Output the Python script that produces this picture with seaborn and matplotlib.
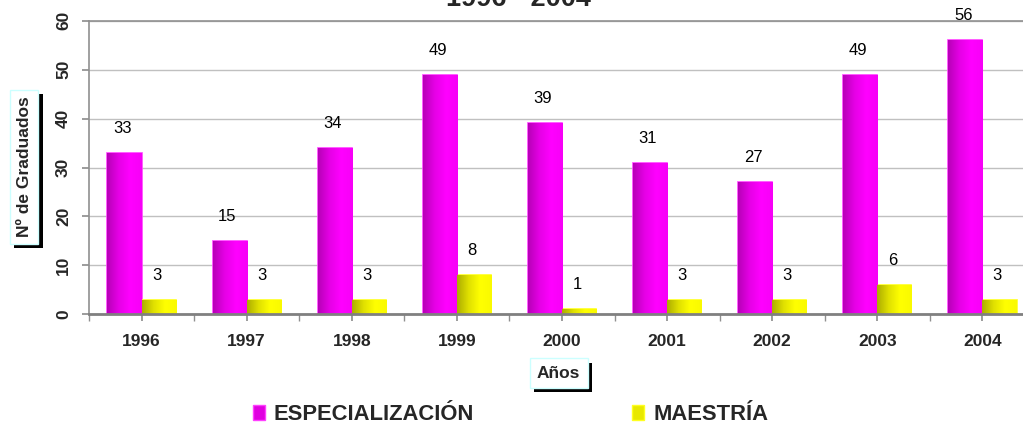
import numpy as np
import pandas as pd
import matplotlib
matplotlib.use("Agg")
import matplotlib.pyplot as plt
import matplotlib.patheffects as pe
from matplotlib.colors import LinearSegmentedColormap
from matplotlib.patches import Patch
import seaborn as sns

years = ["1996", "1997", "1998", "1999", "2000", "2001", "2002", "2003", "2004"]
especializacion = [33, 15, 34, 49, 39, 31, 27, 49, 56]
maestria = [3, 3, 3, 8, 1, 3, 3, 6, 3]
series = ["ESPECIALIZACIÓN", "MAESTRÍA"]
title = "1996 - 2004"

df = pd.DataFrame({
    "Año": years * 2,
    "Serie": [series[0]] * len(years) + [series[1]] * len(years),
    "Valor": especializacion + maestria,
})

sns.set_theme(style="white")
plt.rcParams["font.family"] = ["Liberation Sans", "DejaVu Sans"]

fig = plt.figure(figsize=(10.23, 4.28), dpi=100)
ax = fig.add_axes([89 / 1023, 113.7 / 428, (1035 - 89) / 1023, 293.6 / 428])

palette = {series[0]: "#FF00FF", series[1]: "#FFFF00"}
sns.barplot(data=df, x="Año", y="Valor", hue="Serie", palette=palette,
            width=0.65, gap=0, dodge=True, ax=ax, legend=False,
            saturation=1, edgecolor="none")

cmaps = {
    0: LinearSegmentedColormap.from_list("m", [(0.72, 0, 0.72), (0.9, 0, 0.9), (1, 0, 1), (0.97, 0, 0.97)]),
    1: LinearSegmentedColormap.from_list("y", [(0.68, 0.68, 0), (0.88, 0.88, 0), (1, 1, 0), (0.98, 0.98, 0)]),
}
edgecols = {0: "#FF40FF", 1: "#FFFF20"}
grad = np.linspace(0, 1, 64).reshape(1, -1)
for si, cont in enumerate(ax.containers):
    vals = especializacion if si == 0 else maestria
    for bar, v in zip(cont, vals):
        x, w, h = bar.get_x(), bar.get_width(), bar.get_height()
        bar.set_edgecolor(edgecols[si])
        bar.set_linewidth(1.2)
        im = ax.imshow(grad, extent=(x, x + w, 0, h), cmap=cmaps[si],
                       aspect="auto", origin="lower", zorder=bar.get_zorder() + 0.1)
        im.set_clip_path(bar)
        ax.text(x + w / 2 - 0.02, v + 5, str(v), ha="center", va="center",
                fontsize=12, color="black")

ax.set_xlim(-0.5, 8.5)
ax.set_ylim(0, 60)
ax.set_yticks(range(0, 61, 10))
ax.yaxis.grid(True, color="#C0C0C0", linewidth=1)
ax.set_axisbelow(True)
ax.set_xlabel("")
ax.set_ylabel("")

for s in ["left", "bottom", "top"]:
    ax.spines[s].set_visible(True)
    ax.spines[s].set_color("#909090")
    ax.spines[s].set_linewidth(1.2)
ax.spines["right"].set_visible(False)
ax.spines["bottom"].set_color("#808080")
ax.spines["bottom"].set_linewidth(2)

ax.set_xticks(range(len(years)))
ax.set_xticklabels(years, fontsize=12.5, fontweight="bold")
ax.set_xticks(np.arange(-0.5, 9, 1), minor=True)
ax.tick_params(axis="x", which="both", length=5, color="#909090", direction="out",
               bottom=True, pad=9)
ax.tick_params(axis="y", which="major", length=5, color="#909090", direction="out",
               left=True, pad=8)
for lab in ax.get_yticklabels():
    lab.set_rotation(90)
    lab.set_fontweight("bold")
    lab.set_fontsize(12.5)
    lab.set_va("center")

fig.text(0.507, 0.986, title, ha="center", va="baseline", fontsize=19.5, fontweight="bold")

shadow = [pe.withSimplePatchShadow(offset=(3, -3), shadow_rgbFace="black", alpha=1)]
t1 = fig.text(0.0235, 0.610, "Nº de Graduados", rotation=90, ha="center", va="center",
              fontsize=12.5, fontweight="bold",
              bbox=dict(boxstyle="square,pad=0.4", facecolor="white", edgecolor="#CCFFFF", linewidth=1))
t1.get_bbox_patch().set_path_effects(shadow)
t2 = fig.text(0.546, 0.128, "Años", ha="center", va="center",
              fontsize=12.5, fontweight="bold",
              bbox=dict(boxstyle="square,pad=0.42", facecolor="white", edgecolor="#CCFFFF", linewidth=1))
t2.get_bbox_patch().set_path_effects(shadow)

handles = [Patch(facecolor="#E000E0", edgecolor="#FF40FF"),
           Patch(facecolor="#E8E800", edgecolor="#FFFF20")]
fig.legend(handles, series, loc="center", bbox_to_anchor=(0.499, 0.031), ncol=2,
           frameon=False, prop={"weight": "bold", "size": 15.8}, columnspacing=7.2,
           handlelength=0.55, handleheight=0.65, handletextpad=0.4,
           borderpad=0, borderaxespad=0)

fig.savefig("out.png", dpi=100)
